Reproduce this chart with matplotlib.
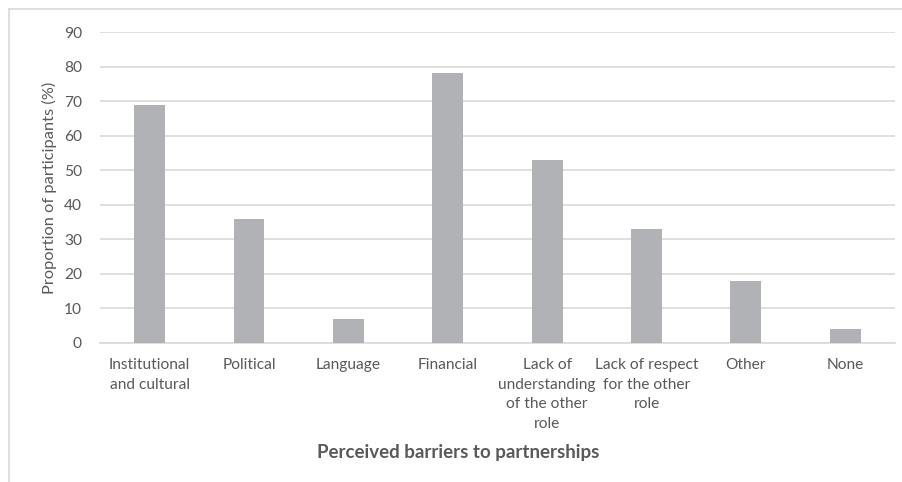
import matplotlib.pyplot as plt
from matplotlib.lines import Line2D
import numpy as np

categories = ["Institutional\nand cultural", "Political", "Language", "Financial",
              "Lack of\nunderstanding\nof the other\nrole", "Lack of respect\nfor the other\nrole",
              "Other", "None"]
values = [69, 36, 7, 78, 53, 33, 18, 4]
yticks = np.arange(0, 91, 10)

plt.rcParams['font.family'] = ['Lato', 'DejaVu Sans']
text_col = "#595959"

fig = plt.figure(figsize=(9.03, 4.82), dpi=100)
ax = fig.add_axes([0.1107, 0.2884, 0.8804, 0.6452])

x = np.arange(len(categories))
ax.bar(x, values, width=0.31, color="#b1b2b6", zorder=3)

ax.set_xlim(-0.5, len(categories) - 0.5)
ax.set_ylim(0, 90)
ax.set_yticks(yticks)
ax.yaxis.grid(True, color="#d9d9d9", linewidth=1.2, zorder=0)
for s in ["top", "right", "left"]:
    ax.spines[s].set_visible(False)
ax.spines["bottom"].set_color("#d9d9d9")
ax.spines["bottom"].set_linewidth(1.2)

ax.set_xticks(x)
ax.set_xticklabels(categories, fontsize=11.2, color=text_col, linespacing=1.5)
ax.tick_params(axis="both", length=0, colors=text_col)
ax.tick_params(axis="x", pad=11, labelsize=11.2)
ax.tick_params(axis="y", pad=13, labelsize=11.2)

ax.set_ylabel("Proportion of participants (%)", fontsize=11.8, color=text_col, labelpad=5)
fig.text(0.507, 0.062, "Perceived barriers to partnerships", ha="center", va="center",
         fontsize=13.5, fontweight="bold", color=text_col)

# chart frame (only top and left edges visible in crop)
fig.add_artist(Line2D([9 / 903, 1.0], [1 - 9 / 482, 1 - 9 / 482], color="#d9d9d9", linewidth=1.2))
fig.add_artist(Line2D([9 / 903, 9 / 903], [0.0, 1 - 9 / 482], color="#d9d9d9", linewidth=1.2))

fig.savefig("out.png", dpi=100)
